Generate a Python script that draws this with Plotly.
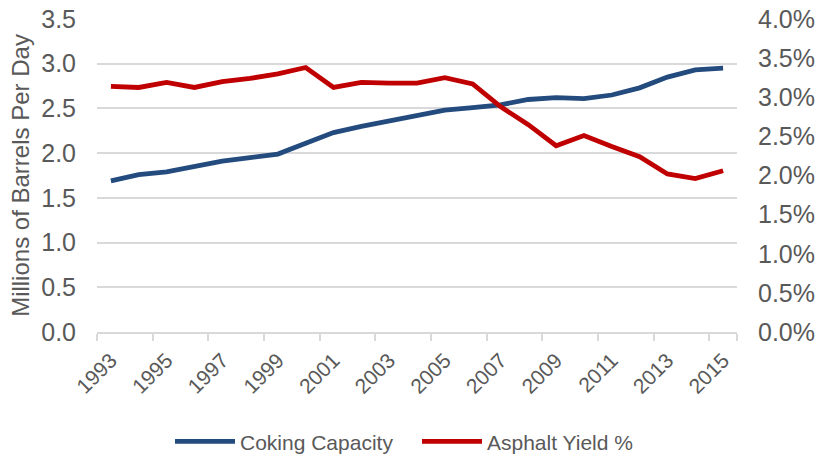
import plotly.graph_objects as go

years = list(range(1993, 2016))
coking_capacity = [1.69, 1.76, 1.79, 1.85, 1.91, 1.95, 1.99, 2.11, 2.23, 2.30, 2.36, 2.42,
                   2.48, 2.51, 2.54, 2.60, 2.62, 2.61, 2.65, 2.73, 2.85, 2.93, 2.95]
asphalt_yield = [3.14, 3.125, 3.19, 3.125, 3.20, 3.24, 3.30, 3.38, 3.125, 3.19, 3.18, 3.18,
                 3.25, 3.17, 2.88, 2.65, 2.38, 2.51, 2.37, 2.24, 2.02, 1.96, 2.06]
label_years = years[::2]
left_ticks = [0.0, 0.5, 1.0, 1.5, 2.0, 2.5, 3.0, 3.5]
right_ticks = [0.0, 0.5, 1.0, 1.5, 2.0, 2.5, 3.0, 3.5, 4.0]
right_tick_text = ["0.0%", "0.5%", "1.0%", "1.5%", "2.0%", "2.5%", "3.0%", "3.5%", "4.0%"]

BLUE = "#234B7E"
RED = "#C00000"
GREY = "#595959"
GRID = "#D9D9D9"
SANS = "Liberation Sans, Arial, sans-serif"

fig = go.Figure()
fig.add_trace(go.Scatter(x=years, y=coking_capacity, name="Coking Capacity", mode="lines",
                         line=dict(color=BLUE, width=4.8), yaxis="y"))
fig.add_trace(go.Scatter(x=years, y=asphalt_yield, name="Asphalt Yield %", mode="lines",
                         line=dict(color=RED, width=4.8), yaxis="y2"))

fig.update_layout(
    width=815, height=455,
    margin=dict(l=97, r=78, t=19, b=123, autoexpand=False),
    paper_bgcolor="white", plot_bgcolor="white",
    showlegend=True,
    legend=dict(orientation="h", x=(170 - 97) / 640, xanchor="left", y=0.029, yanchor="middle",
                yref="container",
                font=dict(family=SANS, size=21, color=GREY), itemwidth=60,
                entrywidth=172, entrywidthmode="pixels",
                tracegroupgap=0),
    xaxis=dict(range=[1992.5, 2015.5], tickmode="array", tickvals=label_years,
               ticktext=[str(y) for y in label_years], tickangle=-45, automargin=False,
               tickfont=dict(family=SANS, size=21, color=GREY),
               showgrid=False, zeroline=False, showline=True, linecolor=GRID, linewidth=1.5,
               ticks="", ticklabelstandoff=6,
               minor=dict(tickvals=[y - 0.5 for y in label_years] + [2015.5],
                          ticks="outside", ticklen=7, tickcolor=GRID, tickwidth=1.5,
                          showgrid=False)),
    yaxis=dict(range=[0, 3.5], tickmode="array", tickvals=left_ticks, automargin=False,
               ticktext=["%.1f" % v for v in left_ticks],
               tickfont=dict(family=SANS, size=25, color=GREY),
               showgrid=True, gridcolor=GRID, gridwidth=1.5, zeroline=False,
               showline=False, ticks="", ticklabelstandoff=20,
               title=dict(text="Millions of Barrels Per Day",
                          font=dict(family=SANS, size=24, color=GREY), standoff=4)),
    yaxis2=dict(range=[0, 4.0], tickmode="array", tickvals=right_ticks, automargin=False,
                ticktext=right_tick_text,
                overlaying="y", side="right",
                tickfont=dict(family=SANS, size=25, color=GREY),
                showgrid=False, zeroline=False, showline=False, ticks="",
                ticklabelstandoff=20),
)

fig.write_html("out.html", config={"displayModeBar": False},
               post_script="document.body.style.margin='0';document.body.style.overflow='hidden';")
